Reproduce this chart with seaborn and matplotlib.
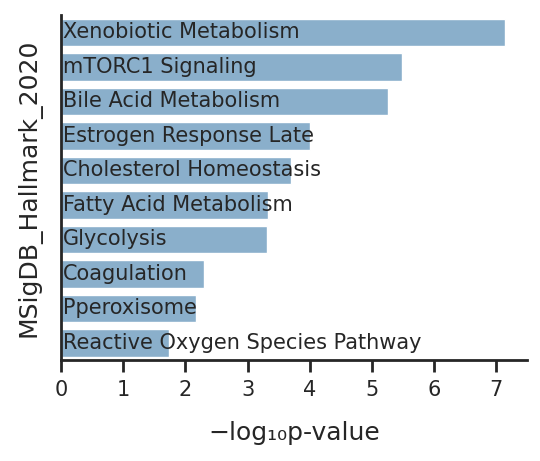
import matplotlib
matplotlib.use("Agg")
import matplotlib.pyplot as plt
import seaborn as sns
import pandas as pd

# termos do MSigDB_Hallmark_2020 e -log10(p)
TERMOS = ["Xenobiotic Metabolism", "mTORC1 Signaling", "Bile Acid Metabolism",
          "Estrogen Response Late", "Cholesterol Homeostasis", "Fatty Acid Metabolism",
          "Glycolysis", "Coagulation", "Pperoxisome", "Reactive Oxygen Species Pathway"]
NEG_LOG10_P = [7.14, 5.49, 5.26, 4.00, 3.70, 3.33, 3.32, 2.30, 2.17, 1.74]

COR_BARRA = "#8AAFCB"
COR_TEXTO = "#262626"

sns.set_style("ticks")
plt.rcParams["font.family"] = ["DejaVu Sans"]

df = pd.DataFrame({"Term": TERMOS, "score": NEG_LOG10_P})

fig = plt.figure(figsize=(5.4, 4.61), dpi=100)
ax = fig.add_axes([0.113, 0.219, 0.863, 0.748])

sns.barplot(data=df, x="score", y="Term", color=COR_BARRA, saturation=1,
            width=0.8, ax=ax)

for i, termo in enumerate(df["Term"]):
    ax.text(0.03, i, termo, va="center", ha="left", fontsize=15, color=COR_TEXTO)

ax.set_yticks([])
ax.set_ylabel("MSigDB_Hallmark_2020", fontsize=18, color=COR_TEXTO, labelpad=14)
ax.set_xlabel("\u2212log\u2081\u2080p-value", fontsize=18, color=COR_TEXTO, labelpad=15)
ax.set_xticks(range(0, 8))
ax.set_xlim(0, max(NEG_LOG10_P) * 1.05)
ax.tick_params(axis="x", labelsize=15, length=8.5, width=2, pad=6, colors=COR_TEXTO)
for s in ["left", "bottom"]:
    ax.spines[s].set_linewidth(2)
    ax.spines[s].set_color(COR_TEXTO)
sns.despine(ax=ax)

fig.savefig("out.png", dpi=100)
